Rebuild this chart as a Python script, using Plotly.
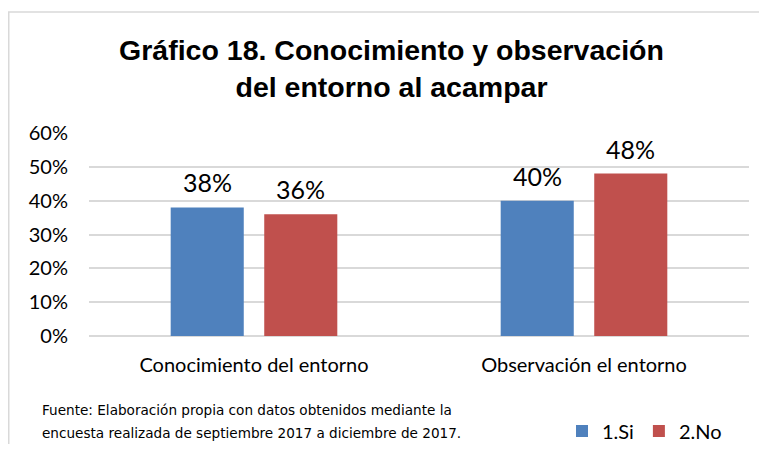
import plotly.graph_objects as go

categories = ['Conocimiento del entorno', 'Observación el entorno']
si_values = [0.38, 0.40]
no_values = [0.36, 0.48]
series_names = ['1.Si', '2.No']
y_ticks = [0, 0.1, 0.2, 0.3, 0.4, 0.5, 0.6]
source_lines = ['Fuente: Elaboración propia con datos obtenidos mediante la',
                'encuesta realizada de septiembre 2017 a diciembre de 2017.']

BLUE = '#4F81BD'
RED = '#C0504D'
TXT = 'Lato, Calibri, sans-serif'

# the page body adds an 8px margin, so the figure is made smaller (no scrollbars)
# and screen positions are converted with that offset
OFF = 8
W, H = 767 - 2 * OFF, 452 - 2 * OFF
PL, PR, PT, PB = 89 - OFF, 749 - OFF, 133 - OFF, 336 - OFF


def px_x(sx):
    return (sx - OFF - PL) / (PR - PL)


def px_y(sy):
    return (PB - (sy - OFF)) / (PB - PT)


fig = go.Figure()
for name, values, color in zip(series_names, [si_values, no_values], [BLUE, RED]):
    fig.add_trace(go.Bar(x=categories, y=values, name=name,
                         marker=dict(color=color, line=dict(width=0))))

# value labels above each bar (offset left/right for the grouped bars)
bargap = 0.433
slot = (1 - bargap) * (PR - PL) / len(categories) / 2
for values, shift in zip([si_values, no_values], [-slot / 2, slot / 2]):
    for cat, v in zip(categories, values):
        fig.add_annotation(x=cat, y=v, text=f'{v:.0%}', showarrow=False,
                           xshift=shift, yshift=25, yanchor='middle',
                           font=dict(family=TXT, size=25, color='#000000'))

# source note, two lines
for i, line in enumerate(source_lines):
    fig.add_annotation(xref='paper', yref='paper', x=px_x(40), y=px_y(410 + 23 * i),
                       xanchor='left', yanchor='middle', showarrow=False, text=line,
                       font=dict(family='DejaVu Sans', size=13.6, color='#000000'))

# light outer border of the chart area (only the left and top edges are visible)
fig.add_shape(type='rect', xref='paper', yref='paper', x0=px_x(OFF + 0.75), x1=px_x(790),
              y0=px_y(470), y1=px_y(12), line=dict(color='#D9D9D9', width=1.5),
              layer='below')

fig.update_layout(
    width=W, height=H,
    margin=dict(l=PL, r=W - PR, t=PT, b=H - PB, autoexpand=False),
    paper_bgcolor='white', plot_bgcolor='white',
    barmode='group', bargap=bargap, bargroupgap=0.219,
    title=dict(text='Gráfico 18. Conocimiento y observación<br>del entorno al acampar',
               x=(391.5 - OFF) / W, xref='container', xanchor='center',
               y=1 - 52 / H, yanchor='bottom',
               font=dict(family='Liberation Sans, Arial', size=28.5, color='#000000',
                         weight='bold')),
    xaxis=dict(showgrid=False, showline=False, ticks='', ticklabelstandoff=15,
               tickfont=dict(family=TXT, size=20, color='#000000')),
    yaxis=dict(range=[0, 0.6], tickvals=y_ticks, tickformat='.0%',
               showgrid=True, gridcolor='#D9D9D9', gridwidth=1.5,
               zeroline=True, zerolinecolor='#D9D9D9', zerolinewidth=1.5,
               showline=False, ticks='', ticklabelstandoff=20,
               tickfont=dict(family=TXT, size=20, color='#000000')),
    showlegend=True,
    legend=dict(orientation='h', xref='container', yref='container',
                x=(562 - OFF) / W, y=1 - (431 - OFF) / H, xanchor='left', yanchor='middle',
                font=dict(family=TXT, size=20, color='#000000'),
                itemwidth=30, traceorder='normal', bgcolor='rgba(0,0,0,0)'),
)

fig.write_html('out.html')
